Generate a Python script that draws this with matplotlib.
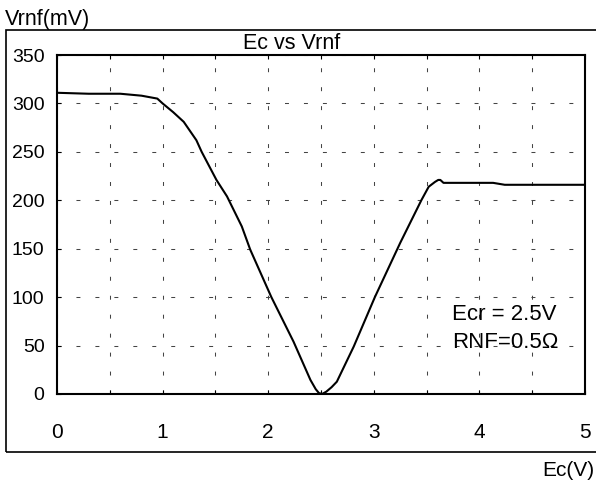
import matplotlib
matplotlib.use("Agg")
import matplotlib.pyplot as plt
import matplotlib.patches as patches
import numpy as np

# curve
ec = [0.0, 0.3, 0.6, 0.8, 0.95, 1.0, 1.1, 1.2, 1.32, 1.37, 1.51, 1.61, 1.75, 1.83,
      2.03, 2.24, 2.4, 2.45, 2.48, 2.51, 2.55, 2.6, 2.65, 2.81, 3.01, 3.25, 3.45,
      3.52, 3.58, 3.61, 3.63, 3.66, 4.13, 4.24, 5.0]
vrnf = [311, 310, 310, 308, 305, 300, 291, 281, 262, 250, 221, 204, 173, 149,
        100, 54, 14.5, 5, 1, 0, 2.4, 7, 12.7, 49, 100, 156, 200,
        214, 219, 221, 221, 218, 218, 216, 216]

x_ticks = [0, 1, 2, 3, 4, 5]
y_ticks = [0, 50, 100, 150, 200, 250, 300, 350]

plt.rcParams['font.family'] = ['Liberation Sans', 'DejaVu Sans']

W, H = 596, 487
fig = plt.figure(figsize=(W / 100, H / 100), dpi=100)
ax = fig.add_axes([57 / W, 1 - 394 / H, (585 - 57) / W, (394 - 55) / H])

ax.plot(ec, vrnf, color='black', lw=1.5, zorder=3)

ax.set_xlim(0, 5)
ax.set_ylim(0, 350)
ax.set_xticks(x_ticks)
ax.set_xticks(np.arange(0.5, 5, 1.0), minor=True)
ax.set_yticks(y_ticks)

dash = (0, (3.8, 14.4))
ax.grid(True, which='both', axis='x', color='#444', lw=0.75, linestyle=dash)
ax.grid(True, which='major', axis='y', color='#444', lw=0.75, linestyle=dash)

ax.tick_params(axis='x', which='both', direction='in', top=True, length=3,
               width=0.8, labelsize=15, pad=21)
ax.tick_params(axis='y', which='both', direction='in', length=3, width=0.8,
               labelsize=14, pad=9)
for sp in ax.spines.values():
    sp.set_linewidth(1.5)

ax.text(3.74, 81.9, 'Ecr = 2.5V', fontsize=16, va='center', ha='left')
ax.text(3.74, 53.2, 'RNF=0.5Ω', fontsize=16, va='center', ha='left')

# outer frame, runs off the right edge like the reference
fig.add_artist(patches.Rectangle((6 / W, 1 - 452 / H), 1.2, (452 - 30) / H,
                                 transform=fig.transFigure, fill=False,
                                 lw=1.2, ec='black', clip_on=False))

fig.text(292 / W, 1 - 43.5 / H, 'Ec vs Vrnf', fontsize=15.5, ha='center', va='center')
fig.text(5 / W, 1 - 19.5 / H, 'Vrnf(mV)', fontsize=15.5, ha='left', va='center')
fig.text(594 / W, 1 - 470 / H, 'Ec(V)', fontsize=15, ha='right', va='center')

fig.savefig('out.png', dpi=100)
